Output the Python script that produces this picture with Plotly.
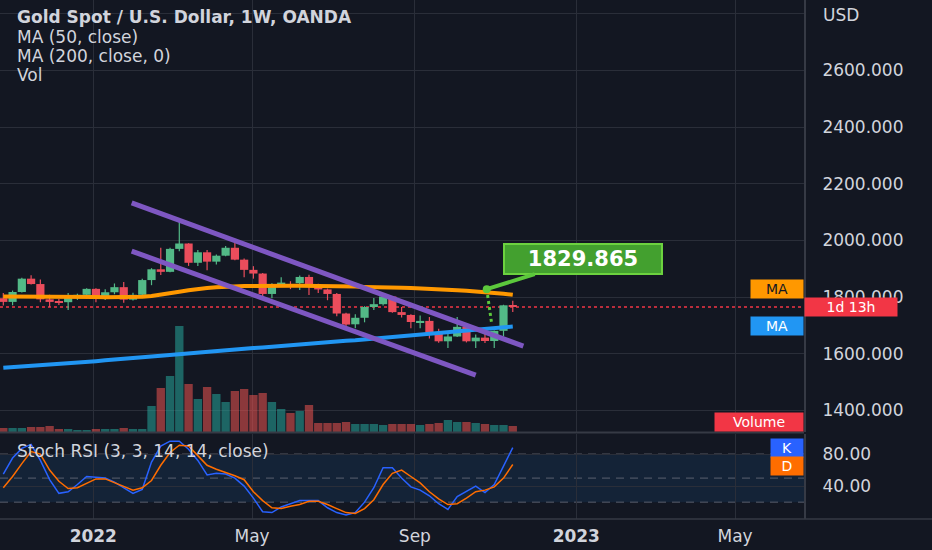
import pandas as pd
import plotly.graph_objects as go

# weekly bars, OANDA XAUUSD
weeks = pd.date_range("2021-10-25", periods=56, freq="7D")

open_ = [1796, 1783, 1818, 1865, 1846, 1792, 1783, 1782, 1797, 1808, 1829, 1797, 1817, 1835,
         1791, 1808, 1860, 1898, 1889, 1970, 1989, 1921, 1958, 1925, 1946, 1974, 1932, 1896,
         1883, 1811, 1846, 1843, 1849, 1871, 1840, 1827, 1811, 1742, 1704, 1727, 1765, 1775,
         1802, 1747, 1737, 1712, 1716, 1675, 1644, 1661, 1695, 1644, 1657, 1645, 1681, 1771]
high = [1814, 1823, 1868, 1877, 1862, 1808, 1793, 1814, 1812, 1831, 1831, 1828, 1848, 1853,
        1815, 1865, 1902, 1974, 1974, 2070, 1990, 1966, 1966, 1950, 1980, 1998, 1936, 1909,
        1885, 1849, 1870, 1856, 1876, 1879, 1847, 1830, 1814, 1745, 1739, 1768, 1797, 1807,
        1803, 1765, 1739, 1735, 1730, 1688, 1675, 1730, 1700, 1668, 1675, 1682, 1773, 1787]
low = [1770, 1771, 1816, 1844, 1782, 1765, 1772, 1754, 1790, 1795, 1782, 1790, 1810, 1780,
       1788, 1805, 1842, 1878, 1888, 1962, 1910, 1910, 1895, 1915, 1944, 1930, 1870, 1865,
       1799, 1796, 1840, 1828, 1825, 1807, 1814, 1789, 1732, 1697, 1690, 1711, 1754, 1770,
       1745, 1728, 1690, 1690, 1654, 1639, 1620, 1659, 1640, 1620, 1638, 1620, 1662, 1747]
close = [1783, 1818, 1865, 1846, 1792, 1783, 1782, 1797, 1808, 1829, 1797, 1817, 1835, 1791,
         1808, 1860, 1898, 1889, 1970, 1989, 1921, 1958, 1925, 1946, 1974, 1932, 1896, 1883,
         1811, 1846, 1851, 1838, 1871, 1840, 1827, 1811, 1742, 1703, 1727, 1765, 1775, 1802,
         1747, 1737, 1712, 1716, 1675, 1644, 1661, 1695, 1644, 1657, 1645, 1681, 1771, 1765]
volume = [4000, 4000, 4000, 5000, 5000, 6000, 3000, 3000, 2000, 2000, 3000, 3000, 3000, 4000,
          3000, 3000, 26000, 44000, 56000, 106000, 48000, 33000, 45000, 38000, 30000, 41000,
          43000, 37000, 39000, 30000, 23000, 19000, 21000, 27000, 9000, 9000, 9000, 10000,
          8000, 8000, 8000, 7000, 8000, 8000, 8000, 7000, 8000, 9000, 12000, 10000, 10000,
          9000, 8000, 7000, 7000, 6000]
ma50 = [1802, 1802, 1803, 1803, 1803, 1802, 1801, 1800, 1800, 1800, 1800, 1799, 1799, 1799,
        1800, 1801, 1804, 1808, 1813, 1819, 1824, 1829, 1832, 1835, 1837, 1838, 1839, 1839,
        1840, 1840, 1840, 1840, 1840, 1840, 1839, 1839, 1838, 1838, 1837, 1836, 1836, 1835,
        1834, 1833, 1832, 1831, 1829, 1827, 1825, 1824, 1822, 1820, 1818, 1816, 1812, 1808]
ma200 = [1551, 1553, 1555, 1558, 1560, 1563, 1565, 1567, 1570, 1572, 1574, 1577, 1579, 1582,
         1584, 1587, 1590, 1593, 1596, 1599, 1601, 1604, 1607, 1610, 1612, 1615, 1617, 1620,
         1622, 1625, 1628, 1630, 1633, 1636, 1638, 1641, 1643, 1646, 1648, 1651, 1654, 1656,
         1659, 1662, 1664, 1667, 1669, 1672, 1675, 1678, 1681, 1684, 1687, 1690, 1693, 1696]
stoch_k = [55, 75, 87, 92, 72, 48, 31, 33, 42, 52, 51, 50, 45, 38, 31, 36, 70, 90, 96, 96,
           86, 72, 54, 56, 55, 50, 40, 25, 8, 7, 14, 18, 22, 22, 22, 13, 7, 4, 7, 20,
           38, 63, 63, 50, 39, 35, 28, 18, 11, 27, 33, 40, 32, 42, 65, 88]
stoch_d = [38, 52, 68, 83, 80, 60, 46, 37, 38, 44, 49, 49, 44, 39, 35, 38, 47, 66, 82, 91,
           90, 78, 66, 61, 57, 53, 48, 33, 22, 13, 12, 15, 17, 21, 21, 17, 12, 7, 6, 12,
           23, 42, 56, 60, 52, 44, 33, 24, 17, 18, 25, 33, 35, 39, 50, 67]

# drawings on the chart
channel_upper = [("2022-01-30", 2132), ("2022-11-22", 1627)]
channel_lower = [("2022-01-30", 1962), ("2022-10-17", 1525)]
callout_point = ("2022-10-25 08:00", 1828)
callout_drop = [("2022-10-25 08:00", 1828), ("2022-10-29", 1708)]
last_price = 1765

price_ticks = [1400, 1600, 1800, 2000, 2200, 2400, 2600, 2800]
month_ticks = ["2022-01-01", "2022-05-01", "2022-09-01", "2023-01-01", "2023-05-01"]
month_labels = ["<b>2022</b>", "May", "Sep", "<b>2023</b>", "May"]

BG = "#131722"
GRID = "#2a2e39"
TXT = "#d1d4dc"
UP, DOWN = "#53b987", "#eb4d5c"
FONT = "DejaVu Sans"
DAY_MS = 86400000

is_up = [c >= o for o, c in zip(open_, close)]
vol_colors = ["rgba(38,166,154,0.55)" if u else "rgba(239,83,80,0.55)" for u in is_up]
body_colors = [UP if u else DOWN for u in is_up]

fig = go.Figure()

fig.add_trace(go.Bar(x=weeks, y=volume, marker_color=vol_colors, marker_line_width=0,
                     width=6.3 * DAY_MS, yaxis="y", hoverinfo="skip"))

# candles: wicks as thin lines, bodies as floating bars
for up_flag, col in ((True, UP), (False, DOWN)):
    wx, wy = [], []
    for d, h, l, u in zip(weeks, high, low, is_up):
        if u == up_flag:
            wx += [d, d, None]
            wy += [l, h, None]
    fig.add_trace(go.Scatter(x=wx, y=wy, yaxis="y3", mode="lines",
                             line=dict(color=col, width=1.2), hoverinfo="skip"))
fig.add_trace(go.Bar(x=weeks, y=[max(abs(c - o), 1.5) for o, c in zip(open_, close)],
                     base=[min(o, c) for o, c in zip(open_, close)], yaxis="y3",
                     width=6.2 * DAY_MS, marker_color=body_colors, marker_line_width=0))

fig.add_trace(go.Scatter(x=weeks, y=ma200, yaxis="y3", mode="lines",
                         line=dict(color="#2196f3", width=4)))
fig.add_trace(go.Scatter(x=weeks, y=ma50, yaxis="y3", mode="lines",
                         line=dict(color="#ff9800", width=4)))
for ch in (channel_upper, channel_lower):
    fig.add_trace(go.Scatter(x=[p[0] for p in ch], y=[p[1] for p in ch], yaxis="y3",
                             mode="lines", line=dict(color="#7e57c2", width=5)))
fig.add_trace(go.Scatter(x=[p[0] for p in callout_drop], y=[p[1] for p in callout_drop],
                         yaxis="y3", mode="lines",
                         line=dict(color="#5cc83c", width=3, dash="dot")))
fig.add_trace(go.Scatter(x=[callout_point[0]], y=[callout_point[1]], yaxis="y3",
                         mode="markers", marker=dict(color="#5cc83c", size=8)))
fig.add_trace(go.Scatter(x=weeks, y=stoch_k, yaxis="y2", mode="lines",
                         line=dict(color="#2962ff", width=1.5)))
fig.add_trace(go.Scatter(x=weeks, y=stoch_d, yaxis="y2", mode="lines",
                         line=dict(color="#ff6d00", width=1.5)))

shapes = [
    dict(type="rect", xref="paper", x0=0, x1=1, yref="y2", y0=20, y1=80,
         fillcolor="rgba(33,150,243,0.1)", line_width=0, layer="below"),
    dict(type="line", xref="paper", x0=0, x1=1, yref="y3", y0=last_price, y1=last_price,
         line=dict(color="#f23645", width=1.5, dash="dot"), layer="between"),
    dict(type="line", xref="paper", x0=0, x1=1, yref="paper", y0=0.1667, y1=0.1667,
         line=dict(color="#363a45", width=2)),
    dict(type="line", xref="paper", x0=0, x1=1.16, yref="paper", y0=0, y1=0,
         line=dict(color="#363a45", width=1.5)),
]
for lvl in (20, 50, 80):
    shapes.append(dict(type="line", xref="paper", x0=0, x1=1, yref="y2", y0=lvl, y1=lvl,
                       line=dict(color="rgba(120,123,134,0.7)", width=1, dash="8px,6px"),
                       layer="between"))


def side_label(text, y, yref, bg, fg, width, anchor="right"):
    return dict(text=text, x=1, xref="paper", xanchor=anchor, y=y, yref=yref,
                yanchor="middle", showarrow=False, bgcolor=bg, width=width, height=14,
                borderpad=2, font=dict(color=fg, size=14, family=FONT))


annotations = [
    dict(text="<b>Gold Spot / U.S. Dollar, 1W, OANDA</b>", x=0.0187, y=0.967),
    dict(text="MA (50, close)", x=0.0187, y=0.929),
    dict(text="MA (200, close, 0)", x=0.0187, y=0.892),
    dict(text="Vol", x=0.0187, y=0.856),
    dict(text="Stoch RSI (3, 3, 14, 14, close)", x=0.0187, y=0.131),
    dict(text="USD", x=1.021, y=0.971),
]
for a in annotations:
    a.update(xref="paper", yref="paper", xanchor="left", yanchor="middle", showarrow=False,
             font=dict(color=TXT, size=17, family=FONT))

annotations += [
    side_label("MA", 1828, "y3", "#ff9800", BG, 48),
    side_label("MA", 1697, "y3", "#2196f3", "white", 48),
    side_label("1d 13h", last_price, "y3", "#f23645", "white", 88, anchor="left"),
    side_label("Volume", 1359, "y3", "#f23645", "white", 84),
    side_label("K", 88, "y2", "#2962ff", "white", 28),
    side_label("D", 65, "y2", "#ff6d00", "white", 28),
    dict(text="<b>1829.865</b>", x=callout_point[0], y=callout_point[1], xref="x", yref="y3",
         ax=96, ay=-30, showarrow=True, arrowhead=0, arrowwidth=4, arrowcolor="#5cc83c",
         bgcolor="#43a02f", bordercolor="#6cd23f", borderwidth=2, borderpad=3,
         width=150, height=22, font=dict(color="white", size=21, family=FONT)),
]

fig.update_layout(
    width=932, height=550,
    margin=dict(l=0, r=128, t=0, b=31),
    paper_bgcolor=BG, plot_bgcolor=BG,
    font=dict(family=FONT, color=TXT, size=15),
    showlegend=False,
    barmode="overlay",
    shapes=shapes,
    annotations=annotations,
    xaxis=dict(domain=[0, 1], anchor="y2", type="date",
               range=["2021-10-22 12:00", "2023-06-22 02:00"],
               tickvals=month_ticks, ticktext=month_labels, ticks="",
               ticklabelstandoff=5, showgrid=True, gridcolor=GRID, gridwidth=1,
               zeroline=False, showline=False,
               tickfont=dict(size=17, color=TXT)),
    yaxis=dict(domain=[0.1676, 1], range=[0, 432000], visible=False, showgrid=False,
               fixedrange=True),
    yaxis3=dict(overlaying="y", side="right", range=[1324, 2848], anchor="x",
                tickvals=price_ticks,
                ticktext=["%.3f" % v if v < 2800 else "" for v in price_ticks],
                ticks="", ticklabelstandoff=13, showgrid=True, gridcolor=GRID,
                zeroline=False, showline=True, linecolor="#363a45", linewidth=2,
                tickfont=dict(size=17, color=TXT)),
    yaxis2=dict(domain=[0, 0.1638], range=[-1, 105], side="right", anchor="x",
                tickvals=[40, 80], ticktext=["40.00", "80.00"], ticks="",
                ticklabelstandoff=13, showgrid=True, gridcolor=GRID, zeroline=False,
                showline=True, linecolor="#363a45", linewidth=2,
                tickfont=dict(size=17, color=TXT)),
)

# drop the page's default body margin so the chart fills the window
fig.write_html("out.html", config={"displayModeBar": False},
               post_script="document.body.style.margin='0';")
